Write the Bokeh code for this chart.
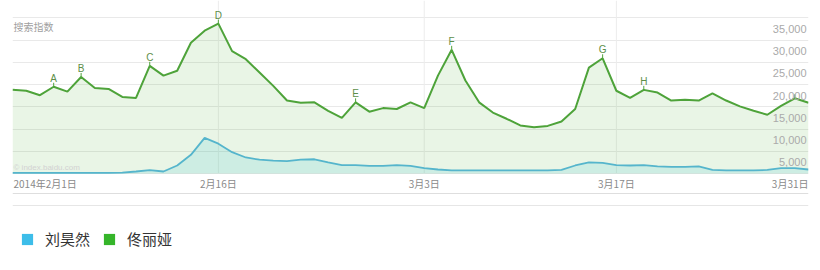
from bokeh.plotting import figure
from bokeh.models import Range1d, Legend, LegendItem, FixedTicker, Span
from bokeh.core.properties import value
from bokeh.embed import file_html
from bokeh.resources import INLINE

# ---------------- data ----------------
days = list(range(59))  # 2014-02-01 .. 2014-03-31
series_names = ["刘昊然", "佟丽娅"]
liu_haoran = [150, 150, 150, 150, 150, 150, 150, 150, 200, 450,
              750, 450, 1800, 4200, 8000, 6700, 4800, 3600, 3100, 2900,
              2800, 3100, 3200, 2500, 1900, 1900, 1700, 1700, 1900, 1700,
              1200, 900, 700, 700, 700, 700, 700, 700, 700, 700,
              800, 1800, 2500, 2400, 1900, 1800, 1900, 1600, 1500, 1500,
              1600, 800, 700, 700, 700, 800, 1200, 1200, 900]
tong_liya = [18800, 18600, 17600, 19500, 18400, 21700, 19200, 19000, 17200, 17000,
             24200, 22000, 23100, 29400, 32100, 33700, 27500, 25700, 22700, 19700,
             16400, 15900, 16000, 14100, 12500, 16000, 13900, 14700, 14500, 16000,
             14700, 22000, 27800, 20900, 16000, 13700, 12300, 10800, 10400, 10700,
             11700, 14500, 23800, 25900, 18600, 17000, 18800, 18200, 16400, 16600,
             16400, 18000, 16400, 15100, 14100, 13200, 15200, 16900, 15900]
y_ticks = [5000, 10000, 15000, 20000, 25000, 30000, 35000]
y_tick_labels = ["5,000", "10,000", "15,000", "20,000", "25,000", "30,000", "35,000"]
x_tick_days = [0, 15, 30, 44, 58]
x_tick_labels = ["2014年2月1日", "2月16日", "3月3日", "3月17日", "3月31日"]
ann_days = [3, 5, 10, 15, 25, 32, 43, 46, 57]
ann_labels = ["A", "B", "C", "D", "E", "F", "G", "H", ""]
y_title = "搜索指数"
watermark = "© index.baidu.com"

# ---------------- styles ----------------
GREEN_LINE = "#4ea33a"
GREEN_FILL = "#4caf30"
BLUE_LINE = "#55b5cc"
BLUE_FILL = "#3cc8d6"
LEG_BLUE = "#3dbde9"
LEG_GREEN = "#35b52a"
CJK = value("Noto Sans CJK SC")
LAT = value("Liberation Sans")
PX = 224.8  # data units per screen pixel (vertical)

p = figure(width=820, height=270, output_backend="svg", toolbar_location=None,
           x_range=Range1d(0, 58), y_range=Range1d(-97 * PX, 173 * PX),
           x_axis_location=None, y_axis_location=None,
           min_border_left=12, min_border_right=12, min_border_top=0, min_border_bottom=0)
p.outline_line_color = None
p.background_fill_color = "white"
p.xgrid.visible = False
p.ygrid.ticker = FixedTicker(ticks=[0] + y_ticks)
p.ygrid.grid_line_color = "#e9e9e9"
p.ygrid.grid_line_width = 1

# vertical grid lines at date ticks
mid_days = x_tick_days[1:-1]
p.segment(x0=mid_days, x1=mid_days, y0=[0] * len(mid_days), y1=[p.y_range.end] * len(mid_days),
          line_color="#ececec", line_width=1)

# areas and lines
zeros = [0] * len(days)
p.varea(x=days, y1=zeros, y2=tong_liya, fill_color=GREEN_FILL, fill_alpha=0.12)
p.varea(x=days, y1=zeros, y2=liu_haoran, fill_color=BLUE_FILL, fill_alpha=0.16)
p.line(x=days, y=tong_liya, line_color=GREEN_LINE, line_width=2)
p.line(x=days, y=liu_haoran, line_color=BLUE_LINE, line_width=1.8)

# annotations A..H
ann_vals = [tong_liya[d] for d in ann_days]
p.segment(x0=ann_days, x1=ann_days, y0=ann_vals, y1=[v + 4 * PX for v in ann_vals],
          line_color=GREEN_LINE, line_width=1)
p.text(x=ann_days, y=ann_vals, text=ann_labels, text_align="center", text_baseline="bottom",
       y_offset=-3, text_font_size="10px", text_color="#5e8f4a", text_font=LAT)

# y tick labels (inside plot, right side)
p.text(x=[p.x_range.end] * len(y_ticks), y=y_ticks, text=y_tick_labels,
       text_align="right", text_baseline="middle", x_offset=-2, y_offset=11,
       text_font_size="11px", text_color="#aaaaaa", text_font=LAT)

# x tick labels
p.text(x=x_tick_days[:1], y=[0], text=x_tick_labels[:1], text_align="left",
       text_baseline="middle", x_offset=1, y_offset=10, text_font_size="10px",
       text_color="#8a8a8a", text_font=CJK)
p.text(x=x_tick_days[1:-1], y=[0] * 3, text=x_tick_labels[1:-1], text_align="center",
       text_baseline="middle", y_offset=10, text_font_size="10px",
       text_color="#8a8a8a", text_font=CJK)
p.text(x=x_tick_days[-1:], y=[0], text=x_tick_labels[-1:], text_align="right",
       text_baseline="middle", y_offset=10, text_font_size="10px",
       text_color="#8a8a8a", text_font=CJK)

# title & watermark
p.text(x=[0], y=[y_ticks[-1]], text=[y_title], text_align="left", text_baseline="middle",
       x_offset=1, y_offset=9, text_font_size="10px", text_color="#a0a0a0", text_font=CJK)
p.text(x=[0], y=[0], text=[watermark], text_align="left", text_baseline="middle",
       x_offset=1, y_offset=-6, text_font_size="8px", text_color="#d2d2d2", text_font=LAT)

# separator lines below the axis
p.add_layout(Span(location=-20 * PX, dimension="width", line_color="#dedede", line_width=1))
p.add_layout(Span(location=-32 * PX, dimension="width", line_color="#e6e6e6", line_width=1))

# legend (zero-height area renderers carrying the saturated legend colours)
stub_x = days[:2]
stub_y = zeros[:2]
r_liu = p.varea(x=stub_x, y1=stub_y, y2=stub_y, fill_color=LEG_BLUE)
r_tong = p.varea(x=stub_x, y1=stub_y, y2=stub_y, fill_color=LEG_GREEN)
legend = Legend(items=[LegendItem(label=series_names[0], renderers=[r_liu]),
                       LegendItem(label=series_names[1], renderers=[r_tong])],
                orientation="horizontal", location=(8, 21),
                glyph_width=14, glyph_height=14, label_standoff=11, spacing=12,
                label_height=14, label_text_font_size="15px", label_text_font="Noto Sans CJK SC",
                label_text_color="#333333", padding=0, margin=0,
                border_line_alpha=0, background_fill_alpha=0)
p.add_layout(legend)

open("out.html", "w").write(file_html(p, INLINE))
